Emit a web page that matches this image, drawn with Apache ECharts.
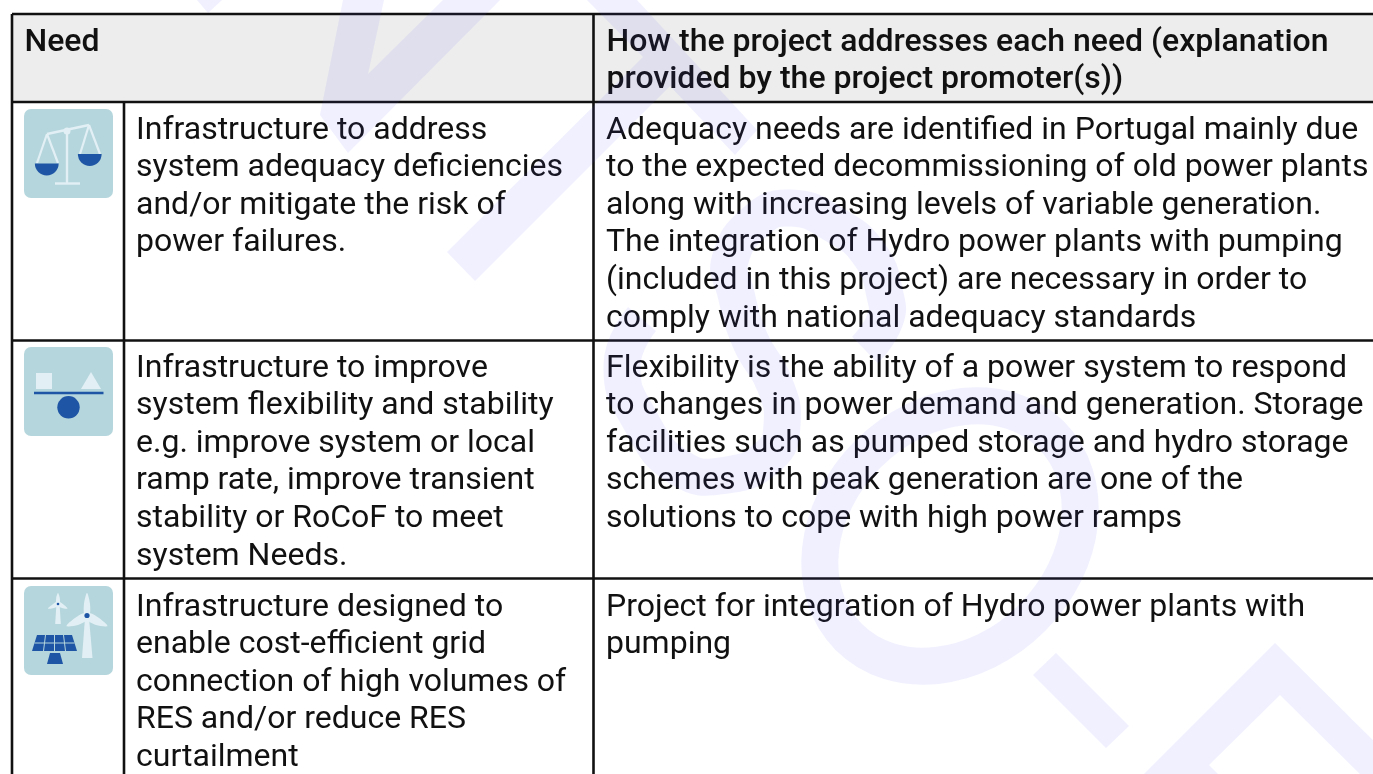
<!doctype html>
<html lang='en'>
<head>
<title>Project needs table</title>
<meta charset='utf-8'>
<style>
html, body { margin: 0; padding: 0; background: #fff; }
#chart { width: 1373px; height: 774px; }
</style>
</head>
<body>
<div id="chart"></div>
<script src="https://cdn.jsdelivr.net/npm/echarts@6/dist/echarts.min.js"></script>
<script>
// table text, one entry per printed line
const headNeed = ['Need'];
const headHow = ['How the project addresses each need (explanation', 'provided by the project promoter(s))'];
const needRow1 = ['Infrastructure to address', 'system adequacy deficiencies', 'and/or mitigate the risk of', 'power failures.'];
const needRow2 = ['Infrastructure to improve', 'system flexibility and stability', 'e.g. improve system or local', 'ramp rate, improve transient', 'stability or RoCoF to meet', 'system Needs.'];
const needRow3 = ['Infrastructure designed to', 'enable cost-efficient grid', 'connection of high volumes of', 'RES and/or reduce RES', 'curtailment'];
const howRow1 = ['Adequacy needs are identified in Portugal mainly due', 'to the expected decommissioning of old power plants', 'along with increasing levels of variable generation.', 'The integration of Hydro power plants with pumping', '(included in this project) are necessary in order to', 'comply with national adequacy standards'];
const howRow2 = ['Flexibility is the ability of a power system to respond', 'to changes in power demand and generation. Storage', 'facilities such as pumped storage and hydro storage', 'schemes with peak generation are one of the', 'solutions to cope with high power ramps'];
const howRow3 = ['Project for integration of Hydro power plants with', 'pumping'];

const INK = '#111';
const ICON_BG = '#b5d6dc';
const ICON_LIGHT = '#e2f0f5';
const ICON_BLUE = '#1f55a5';
const WATERMARK = 'rgba(85,85,255,0.085)';
const FONT = 'Roboto';
const FONT_SIZE = 32;
const LINE_H = 37.65;

var elements = [];

function textBlock(lines, x, y, weight) {
    lines.forEach(function (line, i) {
        elements.push({
            type: 'text', x: x, y: y + i * LINE_H, z: 5,
            style: { text: line, fill: INK, fontFamily: FONT, fontSize: FONT_SIZE, fontWeight: weight || 400, align: 'left', verticalAlign: 'middle' }
        });
    });
}
function rule(x1, y1, x2, y2) {
    elements.push({ type: 'line', z: 4, shape: { x1: x1, y1: y1, x2: x2, y2: y2 }, style: { stroke: INK, lineWidth: 2.6 } });
}
function poly(points, fill, z, smooth) {
    elements.push({ type: 'polygon', z: z || 3, shape: { points: points, smooth: smooth || 0 }, style: { fill: fill } });
}
function strokeLine(x1, y1, x2, y2, color, width) {
    elements.push({ type: 'line', z: 3, shape: { x1: x1, y1: y1, x2: x2, y2: y2 }, style: { stroke: color, lineWidth: width } });
}
function dot(cx, cy, r, color) {
    elements.push({ type: 'circle', z: 3, shape: { cx: cx, cy: cy, r: r }, style: { fill: color } });
}
function halfDisc(cx, cy, r) {
    elements.push({ type: 'sector', z: 3, shape: { cx: cx, cy: cy, r: r, r0: 0, startAngle: 0, endAngle: Math.PI, clockwise: true }, style: { fill: ICON_BLUE } });
}
function iconBox(y) {
    elements.push({ type: 'rect', z: 2, shape: { x: 24, y: y, width: 89, height: 89, r: 7 }, style: { fill: ICON_BG } });
}

// header band
elements.push({ type: 'rect', z: 1, shape: { x: 12, y: 14, width: 1361, height: 88 }, style: { fill: '#ededed' } });

// grid
rule(12, 14, 1373, 14);
rule(12, 102, 1373, 102);
rule(12, 340.5, 1373, 340.5);
rule(12, 578.5, 1373, 578.5);
rule(12, 14, 12, 774);
rule(124, 102, 124, 774);
rule(593.5, 14, 593.5, 774);

// text
textBlock(headNeed, 24.5, 42.5, 500);
textBlock(headHow, 606.5, 42.5, 500);
textBlock(needRow1, 136, 130.5);
textBlock(needRow2, 136, 368.5);
textBlock(needRow3, 136, 607.5);
textBlock(howRow1, 606, 130.5);
textBlock(howRow2, 606, 368.5);
textBlock(howRow3, 606, 607.5);

// icon 1, scales
iconBox(109);
strokeLine(47, 134, 89, 125, ICON_LIGHT, 2.4);
strokeLine(67, 131, 67, 183, ICON_LIGHT, 2.4);
strokeLine(55, 183.5, 80, 183.5, ICON_LIGHT, 2.4);
strokeLine(47, 134, 37, 163, ICON_LIGHT, 2.2);
strokeLine(47, 134, 58, 163, ICON_LIGHT, 2.2);
strokeLine(89, 125, 80, 154, ICON_LIGHT, 2.2);
strokeLine(89, 125, 100, 154, ICON_LIGHT, 2.2);
dot(67, 131, 3.5, ICON_LIGHT);
halfDisc(46.75, 163.5, 11.9);
halfDisc(89.75, 154, 11.9);

// icon 2, balance
iconBox(347);
poly([[36, 373], [52, 373], [52, 389], [36, 389]], ICON_LIGHT);
poly([[81, 389], [101, 389], [91, 372]], ICON_LIGHT);
strokeLine(34, 393, 103.5, 393, ICON_BLUE, 2.6);
dot(68.5, 407.3, 11.2, ICON_BLUE);

// icon 3, wind and solar
iconBox(586);
poly([[87, 593], [90, 604], [89.5, 615], [84.5, 615], [84, 604]], ICON_LIGHT, 3, 0.3);
poly([[89, 613], [99, 618], [107.5, 626], [96, 625], [85.5, 618.5]], ICON_LIGHT, 3, 0.3);
poly([[85, 613], [75, 618], [66.5, 626], [78, 625], [88.5, 618.5]], ICON_LIGHT, 3, 0.3);
poly([[85, 618], [89, 618], [92.5, 658], [82, 658]], ICON_LIGHT);
dot(87, 615.5, 2.6, ICON_BLUE);
poly([[58, 593], [59.8, 598], [59.5, 604], [56.5, 604], [56.2, 598]], ICON_LIGHT, 3, 0.3);
poly([[59.5, 602], [63.5, 604.5], [67.5, 608.5], [62, 608], [57, 605]], ICON_LIGHT, 3, 0.3);
poly([[56.5, 602], [52.5, 604.5], [48, 608.5], [54, 608], [59, 605]], ICON_LIGHT, 3, 0.3);
poly([[56.3, 606], [59.7, 606], [60.8, 624], [55.2, 624]], ICON_LIGHT);
dot(58, 604, 1.3, ICON_BLUE);
poly([[37, 635], [72, 635], [77, 651], [32, 651]], ICON_BLUE);
strokeLine(34.5, 643, 74.5, 643, ICON_BG, 1);
strokeLine(45.5, 635, 43.5, 651, ICON_BG, 1);
strokeLine(54.5, 635, 54.5, 651, ICON_BG, 1);
strokeLine(63.5, 635, 65.5, 651, ICON_BG, 1);
poly([[50, 653], [60, 653], [63, 664], [47, 664]], ICON_BLUE);

// watermark letters, drawn over the table like the original
poly([[197, 0], [208, 13], [222, 0]], WATERMARK, 10);
poly([[343, 0], [320, 115], [348, 153], [500, 0], [443, 0], [368, 74], [384, 0]], WATERMARK, 10);
poly([[587, 0], [637, 0], [757, 130], [735, 155], [670, 86], [475, 281], [447, 252], [643, 57]], WATERMARK, 10);
poly([[1056, 653], [1129, 726], [1106, 748], [1033, 675]], WATERMARK, 10);
poly([[1275, 643], [1413, 780], [1366, 780], [1280, 695], [1209, 765], [1224, 780], [1138, 780]], WATERMARK, 10);
elements.push({
    type: 'polyline', z: 10,
    shape: {
        points: [[642, 319], [622, 365], [640, 420], [680, 468], [727, 475], [770, 455], [782, 425], [775, 385], [750, 340], [735, 290], [730, 260], [755, 222], [790, 208], [835, 225], [870, 255], [885, 295], [885, 320], [865, 350]],
        smooth: 0.5
    },
    style: { stroke: WATERMARK, lineWidth: 37, fill: null }
});
elements.push({
    type: 'ellipse', z: 10, x: 950, y: 536, rotation: Math.PI / 4,
    shape: { cx: 0, cy: 0, rx: 143, ry: 116 },
    style: { stroke: WATERMARK, lineWidth: 37, fill: null }
});

const chart = echarts.init(document.getElementById('chart'), null, { renderer: 'canvas' });
chart.setOption({
    animation: false,
    backgroundColor: '#fff',
    graphic: { elements: elements }
});
</script>
</body>
</html>
